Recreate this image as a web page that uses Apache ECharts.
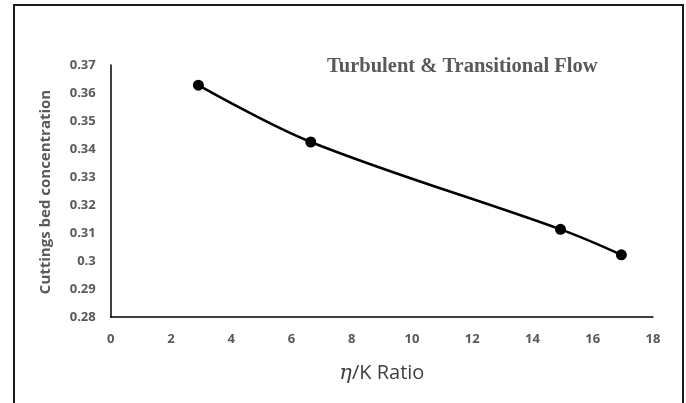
<!DOCTYPE html>
<html>
<head>
<meta charset="utf-8">
<title>Cuttings bed concentration vs η/K ratio</title>
<script src="https://cdn.jsdelivr.net/npm/echarts@6/dist/echarts.min.js"></script>
<style>
  html, body { margin: 0; padding: 0; background: #fff; }
  #chart { width: 686px; height: 403px; }
</style>
</head>
<body>
<div id="chart"></div>
<script>
// η/K ratio (x) and cuttings bed concentration (y)
const ratioValues = [2.91, 6.64, 14.93, 16.95];
const bedConcentration = [0.3628, 0.3425, 0.3113, 0.3022];
const xTicks = [0, 2, 4, 6, 8, 10, 12, 14, 16, 18];
const yTicks = [0.28, 0.29, 0.3, 0.31, 0.32, 0.33, 0.34, 0.35, 0.36, 0.37];

const titleText = 'Turbulent & Transitional Flow';
const yName = 'Cuttings bed concentration';

const points = ratioValues.map((x, i) => [x, bedConcentration[i]]);

const chart = echarts.init(document.getElementById('chart'), null, { renderer: 'canvas' });

const labelFont = { color: '#595959', fontWeight: 'bold', fontFamily: 'Open Sans', fontSize: 13 };

chart.setOption({
  backgroundColor: '#ffffff',
  animation: false,
  title: {
    text: titleText,
    left: 322,
    top: 51,
    textStyle: { fontFamily: 'Liberation Serif', fontWeight: 'bold', fontSize: 20.5, color: '#595959' }
  },
  graphic: [
    {
      type: 'rect',
      shape: { x: 14, y: 5, width: 669, height: 420 },
      style: { fill: 'none', stroke: '#1a1a1a', lineWidth: 2 },
      silent: true
    },
    {
      type: 'text',
      x: 46,
      y: 192,
      rotation: Math.PI / 2,
      style: {
        text: yName,
        fill: '#595959',
        font: 'bold 15px "Open Sans"',
        align: 'center',
        verticalAlign: 'middle'
      }
    }
  ],
  grid: { left: 110.7, right: 33, top: 65, bottom: 86, containLabel: false },
  xAxis: {
    type: 'value',
    min: xTicks[0],
    max: xTicks[xTicks.length - 1],
    interval: 2,
    name: '{eta|η}{rest|/K Ratio}',
    nameLocation: 'middle',
    nameGap: 46,
    nameTextStyle: {
      color: '#404040',
      rich: {
        eta: { fontFamily: 'DejaVu Serif', fontStyle: 'italic', fontSize: 21, color: '#404040' },
        rest: { fontFamily: 'Open Sans', fontSize: 20, color: '#404040' }
      }
    },
    axisLine: { show: true, lineStyle: { color: '#000', width: 1.5 } },
    axisTick: { show: false },
    splitLine: { show: false },
    axisLabel: Object.assign({ margin: 16 }, labelFont)
  },
  yAxis: {
    type: 'value',
    min: yTicks[0],
    max: yTicks[yTicks.length - 1],
    interval: 0.01,
    axisLine: { show: true, lineStyle: { color: '#000', width: 1.5 } },
    axisTick: { show: false },
    splitLine: { show: false },
    axisLabel: Object.assign({
      margin: 15,
      formatter: v => String(parseFloat(v.toFixed(2)))
    }, labelFont)
  },
  series: [{
    type: 'line',
    data: points,
    smooth: 0.35,
    symbol: 'circle',
    symbolSize: 11,
    itemStyle: { color: '#000' },
    lineStyle: { color: '#000', width: 2.5 }
  }]
});
</script>
</body>
</html>
